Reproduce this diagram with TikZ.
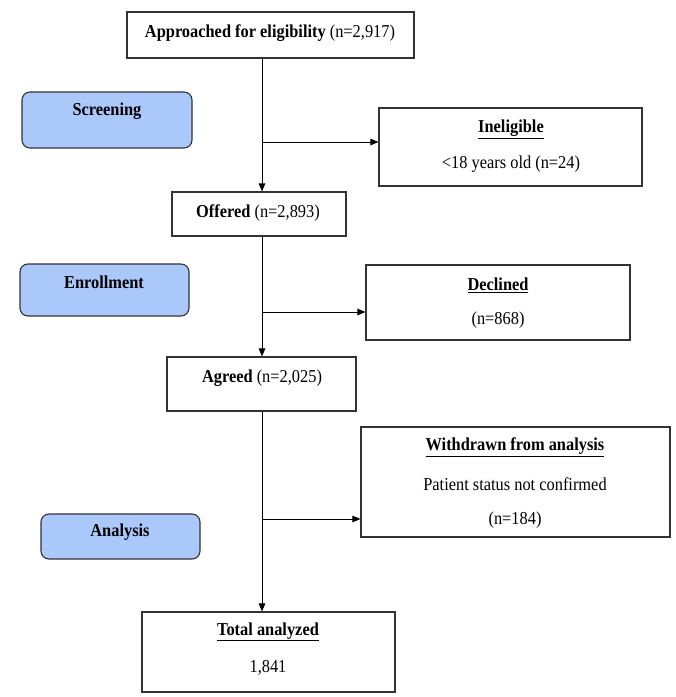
\documentclass[tikz,border=0pt]{standalone}
\usepackage{fontspec}
\setmainfont{Liberation Serif}[FakeStretch=0.9]
\usetikzlibrary{arrows.meta}
\definecolor{phase}{RGB}{170,200,250}
\definecolor{edge}{RGB}{50,50,55}
\tikzset{
  box/.style={draw=edge, line width=1.1pt, rectangle, inner sep=0pt},
  phasebox/.style={draw=edge, line width=1.1pt, rectangle, rounded corners=8pt, fill=phase, inner sep=0pt},
  txt/.style={inner sep=0pt, font=\fontsize{18.2}{21}\selectfont},
  arr/.style={draw=black, line width=0.9pt, -{Triangle[length=8pt,width=6.5pt]}},
  ln/.style={draw=black, line width=0.9pt}
}
\newcommand{\bx}[5]{% name, x1, y1, x2, y2
  \node[box, minimum width={#4-#2}, minimum height={#5-#3}] (#1) at ({(#2+#4)/2},{(#3+#5)/2}) {};}
\newcommand{\pbx}[5]{%
  \node[phasebox, minimum width={#4-#2}, minimum height={#5-#3}] (#1) at ({(#2+#4)/2},{(#3+#5)/2}) {};}
\begin{document}
\begin{tikzpicture}[x=1pt,y=-1pt]
\useasboundingbox (0,0) rectangle (676,697);
\fill[white] (0,0) rectangle (676,697);
% boxes
\bx{top}{127}{12}{414}{58}
\bx{inel}{379}{108}{642}{186}
\bx{off}{172}{192}{346}{236}
\bx{decl}{366}{265}{630}{340}
\bx{agr}{167}{357}{356}{411}
\bx{wd}{361}{427}{670}{537}
\bx{tot}{142}{612}{395}{692}
\pbx{scr}{22}{92}{192}{148}
\pbx{enr}{20}{264}{189}{316}
\pbx{ana}{41}{514}{200}{559}
% texts
\node[txt] (ttop) at (270,33) {\textbf{Approached for eligibility} (n=2,917)};
\node[txt] (tinel1) at (511,129) {\textbf{\underline{Ineligible}}};
\node[txt] (tinel2) at (511,164) {<18 years old (n=24)};
\node[txt] (toff) at (258,213) {\textbf{Offered} (n=2,893)};
\node[txt] (tdecl1) at (498,285) {\textbf{\underline{Declined}}};
\node[txt] (tdecl2) at (498,320) {(n=868)};
\node[txt] (tagr) at (262,378) {\textbf{Agreed} (n=2,025)};
\node[txt] (twd1) at (515,447) {\textbf{\underline{Withdrawn from analysis}}};
\node[txt] (twd2) at (515,484) {Patient status not confirmed};
\node[txt] (twd3) at (515,520) {(n=184)};
\node[txt] (ttot1) at (268,632) {\textbf{\underline{Total analyzed}}};
\node[txt] (ttot2) at (268,668) {1,841};
\node[txt] (tscr) at (107,111) {\textbf{Screening}};
\node[txt] (tenr) at (104,282) {\textbf{Enrollment}};
\node[txt] (tana) at (120,532) {\textbf{Analysis}};
% spine and branch points
\coordinate (sp) at (262,0);
\coordinate (b1) at (262,142);
\coordinate (b2) at (262,312);
\coordinate (b3) at (262,519);
\draw[arr] (sp |- top.south) -- (sp |- off.north);
\draw[arr] (sp |- off.south) -- (sp |- agr.north);
\draw[arr] (sp |- agr.south) -- (sp |- tot.north);
\draw[arr] (b1) -- (b1 -| inel.west);
\draw[arr] (b2) -- (b2 -| decl.west);
\draw[arr] (b3) -- (b3 -| wd.west);
\end{tikzpicture}
\end{document}
